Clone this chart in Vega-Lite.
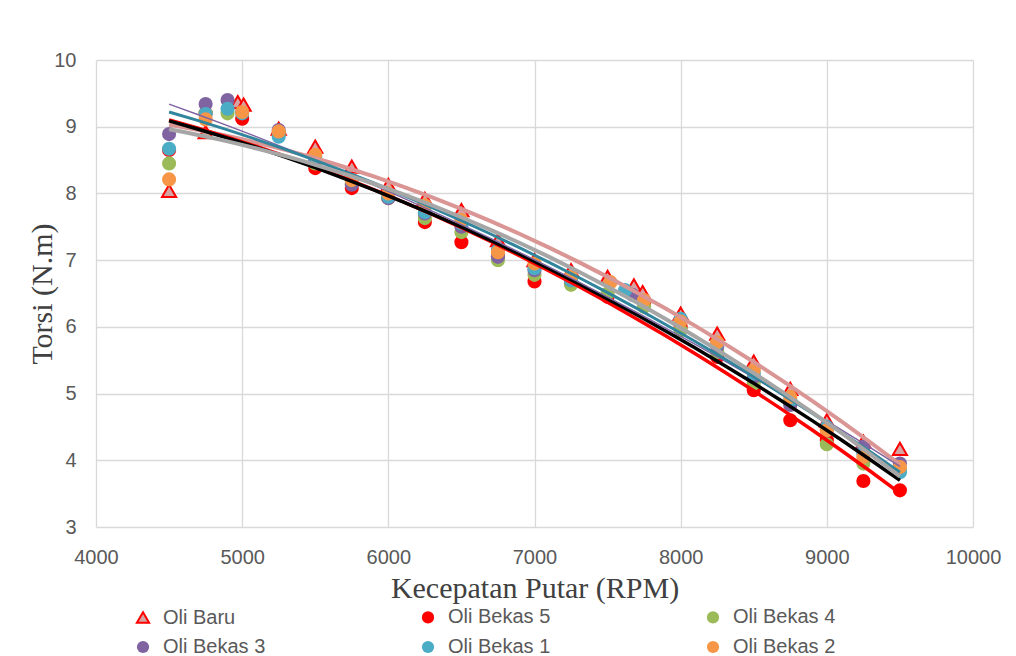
{
  "$schema": "https://vega.github.io/schema/vega-lite/v6.json",
  "width": 877,
  "height": 467,
  "autosize": {"type": "none"},
  "padding": {"left": 96, "top": 60, "right": 43, "bottom": 129},
  "background": "white",
  "config": {
    "view": {"stroke": null},
    "axis": {
      "grid": true,
      "gridColor": "#D9D9D9",
      "gridWidth": 1.3,
      "domain": false,
      "ticks": false,
      "labelFont": "Liberation Sans",
      "labelFontSize": 20,
      "labelColor": "#595959",
      "labelFlush": false,
      "titleFont": "Liberation Serif",
      "titleFontSize": 30,
      "titleFontWeight": "normal",
      "titleColor": "#404040"
    },
    "legend": {
      "labelFont": "Liberation Sans",
      "labelFontSize": 20,
      "labelColor": "#595959",
      "padding": 0
    }
  },
  "datasets": {
    "d": [
      {"series": "Oli Baru", "x": 4500, "y": 8.04},
      {"series": "Oli Baru", "x": 4750, "y": 8.92},
      {"series": "Oli Baru", "x": 4970, "y": 9.37},
      {"series": "Oli Baru", "x": 5010, "y": 9.33},
      {"series": "Oli Baru", "x": 5250, "y": 8.97},
      {"series": "Oli Baru", "x": 5500, "y": 8.7},
      {"series": "Oli Baru", "x": 5750, "y": 8.4},
      {"series": "Oli Baru", "x": 6000, "y": 8.13},
      {"series": "Oli Baru", "x": 6250, "y": 7.92},
      {"series": "Oli Baru", "x": 6500, "y": 7.75},
      {"series": "Oli Baru", "x": 6750, "y": 7.3},
      {"series": "Oli Baru", "x": 7000, "y": 7.0},
      {"series": "Oli Baru", "x": 7250, "y": 6.85},
      {"series": "Oli Baru", "x": 7500, "y": 6.75},
      {"series": "Oli Baru", "x": 7680, "y": 6.62},
      {"series": "Oli Baru", "x": 7740, "y": 6.52},
      {"series": "Oli Baru", "x": 8000, "y": 6.2},
      {"series": "Oli Baru", "x": 8250, "y": 5.9},
      {"series": "Oli Baru", "x": 8500, "y": 5.48},
      {"series": "Oli Baru", "x": 8750, "y": 5.07},
      {"series": "Oli Baru", "x": 9000, "y": 4.6},
      {"series": "Oli Baru", "x": 9250, "y": 4.28},
      {"series": "Oli Baru", "x": 9500, "y": 4.17},
      {"series": "Oli Bekas 5", "x": 4500, "y": 8.65},
      {"series": "Oli Bekas 5", "x": 4750, "y": 9.2},
      {"series": "Oli Bekas 5", "x": 5000, "y": 9.12},
      {"series": "Oli Bekas 5", "x": 5250, "y": 8.9},
      {"series": "Oli Bekas 5", "x": 5500, "y": 8.38},
      {"series": "Oli Bekas 5", "x": 5750, "y": 8.08},
      {"series": "Oli Bekas 5", "x": 6000, "y": 7.93},
      {"series": "Oli Bekas 5", "x": 6250, "y": 7.57},
      {"series": "Oli Bekas 5", "x": 6500, "y": 7.27},
      {"series": "Oli Bekas 5", "x": 6750, "y": 7.05},
      {"series": "Oli Bekas 5", "x": 7000, "y": 6.68},
      {"series": "Oli Bekas 5", "x": 7250, "y": 6.65},
      {"series": "Oli Bekas 5", "x": 7500, "y": 6.45},
      {"series": "Oli Bekas 5", "x": 7750, "y": 6.35},
      {"series": "Oli Bekas 5", "x": 8000, "y": 6.0},
      {"series": "Oli Bekas 5", "x": 8250, "y": 5.55},
      {"series": "Oli Bekas 5", "x": 8500, "y": 5.05},
      {"series": "Oli Bekas 5", "x": 8750, "y": 4.6},
      {"series": "Oli Bekas 5", "x": 9000, "y": 4.3},
      {"series": "Oli Bekas 5", "x": 9250, "y": 3.69},
      {"series": "Oli Bekas 5", "x": 9500, "y": 3.55},
      {"series": "Oli Bekas 4", "x": 4500, "y": 8.45},
      {"series": "Oli Bekas 4", "x": 4750, "y": 9.2},
      {"series": "Oli Bekas 4", "x": 4900, "y": 9.2},
      {"series": "Oli Bekas 4", "x": 5250, "y": 8.9},
      {"series": "Oli Bekas 4", "x": 5500, "y": 8.45},
      {"series": "Oli Bekas 4", "x": 5750, "y": 8.15},
      {"series": "Oli Bekas 4", "x": 6000, "y": 7.93},
      {"series": "Oli Bekas 4", "x": 6250, "y": 7.63},
      {"series": "Oli Bekas 4", "x": 6500, "y": 7.42},
      {"series": "Oli Bekas 4", "x": 6750, "y": 7.0},
      {"series": "Oli Bekas 4", "x": 7000, "y": 6.78},
      {"series": "Oli Bekas 4", "x": 7250, "y": 6.63},
      {"series": "Oli Bekas 4", "x": 7500, "y": 6.5},
      {"series": "Oli Bekas 4", "x": 7750, "y": 6.3},
      {"series": "Oli Bekas 4", "x": 8000, "y": 5.95},
      {"series": "Oli Bekas 4", "x": 8250, "y": 5.62},
      {"series": "Oli Bekas 4", "x": 8500, "y": 5.15},
      {"series": "Oli Bekas 4", "x": 8750, "y": 4.85},
      {"series": "Oli Bekas 4", "x": 9000, "y": 4.24},
      {"series": "Oli Bekas 4", "x": 9250, "y": 3.95},
      {"series": "Oli Bekas 4", "x": 9500, "y": 3.85},
      {"series": "Oli Bekas 3", "x": 4500, "y": 8.89},
      {"series": "Oli Bekas 3", "x": 4750, "y": 9.34},
      {"series": "Oli Bekas 3", "x": 4900, "y": 9.4},
      {"series": "Oli Bekas 3", "x": 5250, "y": 8.95},
      {"series": "Oli Bekas 3", "x": 5500, "y": 8.5},
      {"series": "Oli Bekas 3", "x": 5750, "y": 8.13},
      {"series": "Oli Bekas 3", "x": 6000, "y": 7.93},
      {"series": "Oli Bekas 3", "x": 6250, "y": 7.7},
      {"series": "Oli Bekas 3", "x": 6500, "y": 7.5},
      {"series": "Oli Bekas 3", "x": 6750, "y": 7.05},
      {"series": "Oli Bekas 3", "x": 7000, "y": 6.85},
      {"series": "Oli Bekas 3", "x": 7250, "y": 6.7},
      {"series": "Oli Bekas 3", "x": 7670, "y": 6.48},
      {"series": "Oli Bekas 3", "x": 8000, "y": 6.1},
      {"series": "Oli Bekas 3", "x": 8250, "y": 5.7},
      {"series": "Oli Bekas 3", "x": 8500, "y": 5.25},
      {"series": "Oli Bekas 3", "x": 8750, "y": 4.83},
      {"series": "Oli Bekas 3", "x": 9000, "y": 4.45},
      {"series": "Oli Bekas 3", "x": 9250, "y": 4.2},
      {"series": "Oli Bekas 3", "x": 9500, "y": 3.95},
      {"series": "Oli Bekas 1", "x": 4500, "y": 8.67},
      {"series": "Oli Bekas 1", "x": 4750, "y": 9.19},
      {"series": "Oli Bekas 1", "x": 4900, "y": 9.27},
      {"series": "Oli Bekas 1", "x": 5000, "y": 9.2},
      {"series": "Oli Bekas 1", "x": 5250, "y": 8.85},
      {"series": "Oli Bekas 1", "x": 5500, "y": 8.55},
      {"series": "Oli Bekas 1", "x": 5750, "y": 8.2},
      {"series": "Oli Bekas 1", "x": 6000, "y": 7.95},
      {"series": "Oli Bekas 1", "x": 6250, "y": 7.72},
      {"series": "Oli Bekas 1", "x": 6500, "y": 7.55},
      {"series": "Oli Bekas 1", "x": 6750, "y": 7.15},
      {"series": "Oli Bekas 1", "x": 7000, "y": 6.88},
      {"series": "Oli Bekas 1", "x": 7250, "y": 6.7},
      {"series": "Oli Bekas 1", "x": 7620, "y": 6.55},
      {"series": "Oli Bekas 1", "x": 8000, "y": 6.12},
      {"series": "Oli Bekas 1", "x": 8250, "y": 5.75},
      {"series": "Oli Bekas 1", "x": 8500, "y": 5.3},
      {"series": "Oli Bekas 1", "x": 8750, "y": 4.9},
      {"series": "Oli Bekas 1", "x": 9000, "y": 4.5},
      {"series": "Oli Bekas 1", "x": 9250, "y": 4.1},
      {"series": "Oli Bekas 1", "x": 9500, "y": 3.82},
      {"series": "Oli Bekas 2", "x": 4500, "y": 8.21},
      {"series": "Oli Bekas 2", "x": 4750, "y": 9.11},
      {"series": "Oli Bekas 2", "x": 5000, "y": 9.22},
      {"series": "Oli Bekas 2", "x": 5250, "y": 8.93},
      {"series": "Oli Bekas 2", "x": 5500, "y": 8.58},
      {"series": "Oli Bekas 2", "x": 5750, "y": 8.2},
      {"series": "Oli Bekas 2", "x": 6000, "y": 8.0},
      {"series": "Oli Bekas 2", "x": 6250, "y": 7.82},
      {"series": "Oli Bekas 2", "x": 6500, "y": 7.6},
      {"series": "Oli Bekas 2", "x": 6750, "y": 7.12},
      {"series": "Oli Bekas 2", "x": 7000, "y": 6.95},
      {"series": "Oli Bekas 2", "x": 7250, "y": 6.75},
      {"series": "Oli Bekas 2", "x": 7520, "y": 6.67},
      {"series": "Oli Bekas 2", "x": 7750, "y": 6.4},
      {"series": "Oli Bekas 2", "x": 8000, "y": 6.08},
      {"series": "Oli Bekas 2", "x": 8250, "y": 5.77},
      {"series": "Oli Bekas 2", "x": 8500, "y": 5.35},
      {"series": "Oli Bekas 2", "x": 8750, "y": 4.95},
      {"series": "Oli Bekas 2", "x": 9000, "y": 4.45},
      {"series": "Oli Bekas 2", "x": 9250, "y": 4.05},
      {"series": "Oli Bekas 2", "x": 9500, "y": 3.9}
    ]
  },
  "data": {"name": "d"},
  "encoding": {
    "x": {
      "field": "x", "type": "quantitative",
      "scale": {"domain": [4000, 10000], "nice": false, "zero": false},
      "axis": {"values": [4000, 5000, 6000, 7000, 8000, 9000, 10000], "title": "Kecepatan Putar (RPM)", "labelPadding": 20, "titlePadding": 6, "format": "d"}
    },
    "y": {
      "field": "y", "type": "quantitative",
      "scale": {"domain": [3, 10], "nice": false, "zero": false},
      "axis": {"values": [3, 4, 5, 6, 7, 8, 9, 10], "title": "Torsi (N.m)", "labelPadding": 20, "titlePadding": -4}
    }
  },
  "layer": [
    {
      "mark": {"type": "point", "filled": true, "opacity": 1, "size": 200, "strokeWidth": 2},
      "encoding": {
        "fill": {
          "field": "series", "type": "nominal",
          "scale": {
            "domain": ["Oli Baru", "Oli Bekas 5", "Oli Bekas 4", "Oli Bekas 3", "Oli Bekas 1", "Oli Bekas 2"],
            "range": ["#D6A3A3", "#FF0000", "#9BBB59", "#8064A2", "#4BACC6", "#F79646"]
          },
          "legend": {
            "title": null, "orient": "none", "legendX": 37, "legendY": 547, "direction": "horizontal",
            "columns": 3, "columnPadding": 151, "rowPadding": 8,
            "symbolSize": 150, "labelOffset": 10, "symbolStrokeWidth": 2
          }
        },
        "stroke": {
          "field": "series", "type": "nominal",
          "scale": {
            "domain": ["Oli Baru", "Oli Bekas 5", "Oli Bekas 4", "Oli Bekas 3", "Oli Bekas 1", "Oli Bekas 2"],
            "range": ["#FF0000", "transparent", "transparent", "transparent", "transparent", "transparent"]
          },
          "legend": {
            "title": null, "orient": "none", "legendX": 37, "legendY": 547, "direction": "horizontal",
            "columns": 3, "columnPadding": 151, "rowPadding": 8,
            "symbolSize": 150, "labelOffset": 10, "symbolStrokeWidth": 2
          }
        },
        "shape": {
          "field": "series", "type": "nominal",
          "scale": {
            "domain": ["Oli Baru", "Oli Bekas 5", "Oli Bekas 4", "Oli Bekas 3", "Oli Bekas 1", "Oli Bekas 2"],
            "range": ["triangle-up", "circle", "circle", "circle", "circle", "circle"]
          },
          "legend": {
            "title": null, "orient": "none", "legendX": 37, "legendY": 547, "direction": "horizontal",
            "columns": 3, "columnPadding": 151, "rowPadding": 8,
            "symbolSize": 150, "labelOffset": 10, "symbolStrokeWidth": 2
          }
        }
      }
    },
    {
      "transform": [{"filter": "datum.series === 'Oli Baru'"}, {"regression": "y", "on": "x", "method": "poly", "order": 2}],
      "mark": {"type": "line", "color": "#D99694", "strokeWidth": 4},
      "encoding": {}
    },
    {
      "transform": [{"filter": "datum.series === 'Oli Bekas 5'"}, {"regression": "y", "on": "x", "method": "poly", "order": 2}],
      "mark": {"type": "line", "color": "#FF0000", "strokeWidth": 3.5},
      "encoding": {}
    },
    {
      "transform": [{"filter": "datum.series === 'Oli Bekas 4'"}, {"regression": "y", "on": "x", "method": "poly", "order": 2}],
      "mark": {"type": "line", "color": "#000000", "strokeWidth": 3.5},
      "encoding": {}
    },
    {
      "transform": [{"filter": "datum.series === 'Oli Bekas 3'"}, {"regression": "y", "on": "x", "method": "poly", "order": 2}],
      "mark": {"type": "line", "color": "#8064A2", "strokeWidth": 1.5},
      "encoding": {}
    },
    {
      "transform": [{"filter": "datum.series === 'Oli Bekas 1'"}, {"regression": "y", "on": "x", "method": "poly", "order": 2}],
      "mark": {"type": "line", "color": "#31859C", "strokeWidth": 3},
      "encoding": {}
    },
    {
      "transform": [{"filter": "datum.series === 'Oli Bekas 2'"}, {"regression": "y", "on": "x", "method": "poly", "order": 2}],
      "mark": {"type": "line", "color": "#A6A6A6", "strokeWidth": 4},
      "encoding": {}
    }
  ]
}
